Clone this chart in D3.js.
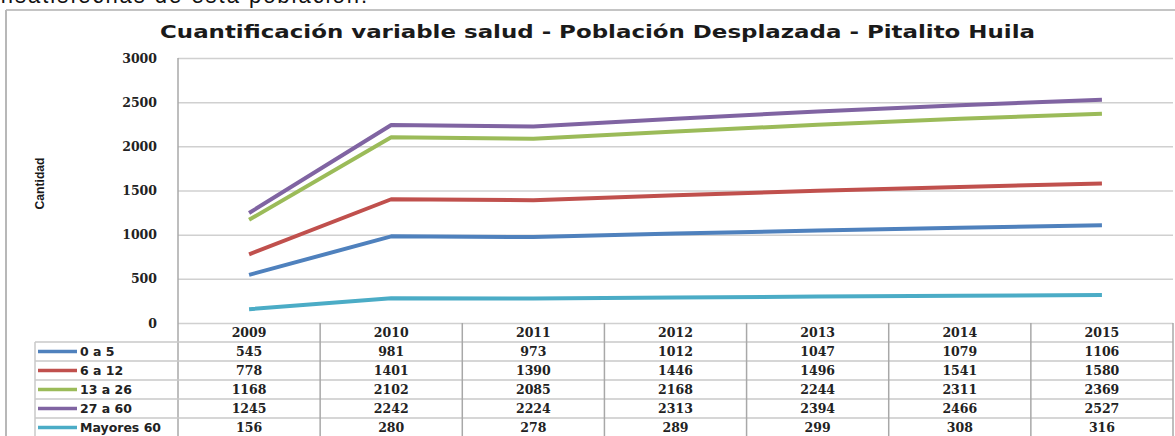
<!DOCTYPE html>
<html>
<head>
<meta charset="utf-8">
<script src="https://cdn.jsdelivr.net/npm/d3@7"></script>
<style>
  body { margin: 0; background: #fff; }
  svg { display: block; }
</style>
</head>
<body>
<svg id="chart" width="1175" height="436"></svg>
<script>
// data
var years = ["2009", "2010", "2011", "2012", "2013", "2014", "2015"]
var seriesNames = ["0 a 5", "6 a 12", "13 a 26", "27 a 60", "Mayores 60"]
var seriesColors = ["#4F81BD", "#C0504D", "#9BBB59", "#8064A2", "#4BACC6"]
var age0to5 = [545, 981, 973, 1012, 1047, 1079, 1106]
var age6to12 = [778, 1401, 1390, 1446, 1496, 1541, 1580]
var age13to26 = [1168, 2102, 2085, 2168, 2244, 2311, 2369]
var age27to60 = [1245, 2242, 2224, 2313, 2394, 2466, 2527]
var mayores60 = [156, 280, 278, 289, 299, 308, 316]
var yTicks = [0, 500, 1000, 1500, 2000, 2500, 3000]

var seriesValues = [age0to5, age6to12, age13to26, age27to60, mayores60]
var series = seriesNames.map(function(name, i){
  return {name: name, color: seriesColors[i], values: seriesValues[i]}
})

var plot = {left: 178, right: 1173, top: 58, bottom: 323}
var tableLeft = 35
var rowH = 19
var numFont = "DejaVu Serif, serif"
var numSize = 12.5

var svg = d3.select("#chart")

var xScale = d3.scaleBand().domain(years).range([plot.left, plot.right])
var yScale = d3.scaleLinear().domain([0, 3000]).range([plot.bottom, plot.top])
var rowScale = d3.scaleBand().domain(seriesNames)
  .range([plot.bottom + rowH, plot.bottom + rowH * (seriesNames.length + 1)])

/* text cut at the top of the page */
svg.append("text")
  .attr("x", -6)
  .attr("y", 3)
  .attr("font-family", "Liberation Sans, Arial, sans-serif")
  .attr("font-size", 22)
  .attr("fill", "#111")
  .attr("textLength", 373)
  .text("insatisfechas de esta población.")

/* chart frame */
svg.append("line")
  .attr("x1", 6).attr("x2", 1175).attr("y1", 10).attr("y2", 10)
  .attr("stroke", "#c4c4c4").attr("stroke-width", 2)
svg.append("line")
  .attr("x1", 6).attr("x2", 6).attr("y1", 10).attr("y2", 436)
  .attr("stroke", "#b8b8b8").attr("stroke-width", 2)

/* title */
svg.append("text")
  .attr("x", 160)
  .attr("y", 38)
  .attr("font-family", "DejaVu Sans, sans-serif")
  .attr("font-weight", "bold")
  .attr("font-size", 18)
  .attr("fill", "#1a1a1a")
  .attr("textLength", 875)
  .attr("lengthAdjust", "spacingAndGlyphs")
  .text("Cuantificación variable salud - Población Desplazada - Pitalito Huila")

/* y axis + gridlines */
var yAxis = d3.axisLeft(yScale)
  .tickValues(yTicks)
  .tickSize(-(plot.right - plot.left))
  .tickPadding(21)
  .tickFormat(d3.format("d"))

var gy = svg.append("g")
  .attr("class", "y-axis")
  .attr("transform", "translate(" + plot.left + ",0)")
  .call(yAxis)
gy.select(".domain").remove()
gy.selectAll(".tick line")
  .attr("stroke", "#d0d0d0")
  .attr("stroke-width", 1.5)
gy.selectAll(".tick text")
  .attr("font-family", numFont)
  .attr("font-weight", "bold")
  .attr("font-size", numSize)
  .attr("fill", "#222")

svg.append("line")
  .attr("x1", plot.left).attr("x2", plot.left)
  .attr("y1", plot.top).attr("y2", 436)
  .attr("stroke", "#a8a8a8").attr("stroke-width", 1.5)

/* axis label */
svg.append("text")
  .attr("transform", "translate(44," + ((plot.top + plot.bottom) / 2 - 7) + ") rotate(-90)")
  .attr("text-anchor", "middle")
  .attr("font-family", "Liberation Sans Narrow, Liberation Sans, sans-serif")
  .attr("font-weight", "bold")
  .attr("font-size", 12)
  .attr("fill", "#1a1a1a")
  .attr("textLength", 52)
  .attr("lengthAdjust", "spacingAndGlyphs")
  .text("Cantidad")

/* data table grid */
var grid = svg.append("g").attr("class", "table-grid")
  .attr("stroke", "#c8c8c8").attr("stroke-width", 1.5)

// horizontal row lines
grid.selectAll(".row-line")
  .data(seriesNames)
  .enter().append("line")
    .attr("x1", tableLeft)
    .attr("x2", plot.right)
    .attr("y1", function(d){ return rowScale(d) })
    .attr("y2", function(d){ return rowScale(d) })

// vertical column lines between years
grid.selectAll(".col-line")
  .data(years.slice(1))
  .enter().append("line")
    .attr("x1", function(d){ return xScale(d) })
    .attr("x2", function(d){ return xScale(d) })
    .attr("y1", plot.bottom)
    .attr("y2", 436)
    .attr("stroke", "#a8a8a8")

grid.append("line")
  .attr("x1", tableLeft).attr("x2", tableLeft)
  .attr("y1", rowScale(seriesNames[0])).attr("y2", 436)
grid.append("line")
  .attr("x1", plot.right).attr("x2", plot.right)
  .attr("y1", plot.bottom).attr("y2", 436)
  .attr("stroke", "#a8a8a8")

/* year header */
svg.selectAll(".year-label")
  .data(years)
  .enter().append("text")
    .attr("class", "year-label")
    .attr("x", function(d){ return xScale(d) + xScale.bandwidth() / 2 })
    .attr("y", plot.bottom + rowH / 2 + 4.5)
    .attr("text-anchor", "middle")
    .attr("font-family", numFont)
    .attr("font-weight", "bold")
    .attr("font-size", numSize)
    .attr("fill", "#222")
    .text(function(d){ return d })

/* table rows */
var rows = svg.selectAll(".table-row")
    .data(series)
  .enter().append("g")
    .attr("class", "table-row")
    .attr("transform", function(d){ return "translate(0," + rowScale(d.name) + ")" })

rows.append("line")
  .attr("x1", tableLeft + 3).attr("x2", tableLeft + 42)
  .attr("y1", rowH / 2).attr("y2", rowH / 2)
  .attr("stroke", function(d){ return d.color })
  .attr("stroke-width", 3.5)

rows.append("text")
  .attr("x", tableLeft + 45)
  .attr("y", rowH / 2 + 4.5)
  .attr("font-family", "DejaVu Sans, sans-serif")
  .attr("font-weight", "bold")
  .attr("font-size", 12.5)
  .attr("fill", "#222")
  .text(function(d){ return d.name })

rows.selectAll(".cell")
    .data(function(d){ return d.values })
  .enter().append("text")
    .attr("class", "cell")
    .attr("x", function(d, i){ return xScale(years[i]) + xScale.bandwidth() / 2 })
    .attr("y", rowH / 2 + 4.5)
    .attr("text-anchor", "middle")
    .attr("font-family", numFont)
    .attr("font-weight", "bold")
    .attr("font-size", numSize)
    .attr("fill", "#222")
    .text(function(d){ return d })

/* lines */
var line = d3.line()
  .x(function(d, i){ return xScale(years[i]) + xScale.bandwidth() / 2 })
  .y(function(d){ return yScale(d) })

svg.selectAll(".series-line")
    .data(series)
  .enter().append("path")
    .attr("class", "series-line")
    .attr("d", function(d){ return line(d.values) })
    .attr("fill", "none")
    .attr("stroke", function(d){ return d.color })
    .attr("stroke-width", 4)
    .attr("stroke-linejoin", "round")
</script>
</body>
</html>
